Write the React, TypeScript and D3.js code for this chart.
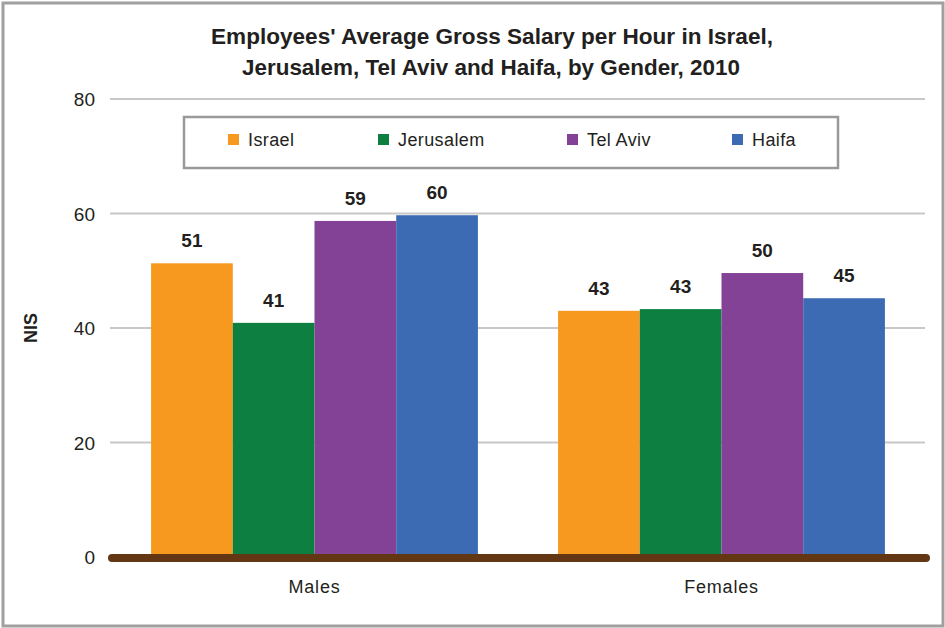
import React from "react";
import * as d3 from "d3";

const categories = ["Males", "Females"];
const seriesNames = ["Israel", "Jerusalem", "Tel Aviv", "Haifa"];
const israel = [51.3, 43.0];
const jerusalem = [40.9, 43.3];
const telAviv = [58.7, 49.6];
const haifa = [59.7, 45.2];
const valueLabels = [
  ["51", "41", "59", "60"],
  ["43", "43", "50", "45"],
];
const yTicks = [0, 20, 40, 60, 80];
const colors = ["#F7991F", "#0C7F41", "#834296", "#3C6AB3"];

const W = 945;
const H = 628;

export default function App() {
  const series = [israel, jerusalem, telAviv, haifa];
  const x0 = d3.scaleBand<string>().domain(categories).range([111, 925]).paddingInner(0.197).paddingOuter(0.0985);
  const x1 = d3.scaleBand<string>().domain(seriesNames).range([0, x0.bandwidth()]).padding(0);
  const y = d3.scaleLinear().domain([0, 80]).range([557, 99]);
  const font = "'Liberation Sans', Arial, sans-serif";
  const legendX = [228, 378, 567, 732];

  return (
    <svg width={W} height={H} style={{ position: "absolute", left: 0, top: 0 }} fontFamily={font}>
      <rect x={0} y={0} width={W} height={H} fill="#fff" />
      <rect x={3} y={3} width={W - 5} height={H - 5} fill="none" stroke="#a0a0a0" strokeWidth={3} />
      <text x={211} y={44} fontSize={21.5} fontWeight="bold" fill="#231f20" textLength={562} lengthAdjust="spacingAndGlyphs">
        Employees' Average Gross Salary per Hour in Israel,
      </text>
      <text x={242} y={75} fontSize={21.5} fontWeight="bold" fill="#231f20" textLength={498} lengthAdjust="spacingAndGlyphs">
        Jerusalem, Tel Aviv and Haifa, by Gender, 2010
      </text>
      {yTicks.map((t) => (
        <g key={t}>
          {t > 0 && <line x1={110} x2={925} y1={y(t)} y2={y(t)} stroke="#c8c8c8" strokeWidth={2} />}
          <text x={95} y={y(t) + 7} textAnchor="end" fontSize={19} fill="#231f20">
            {t}
          </text>
        </g>
      ))}
      <text transform={`translate(37,${y(40)}) rotate(-90)`} textAnchor="middle" fontSize={18} fontWeight="bold" fill="#231f20">
        NIS
      </text>
      <rect x={184} y={117} width={654} height={51} fill="#fff" stroke="#999" strokeWidth={2.5} />
      {seriesNames.map((s, i) => (
        <g key={s}>
          <rect x={legendX[i]} y={134} width={11} height={11} fill={colors[i]} />
          <text x={legendX[i] + 20} y={146} fontSize={18} letterSpacing={0.4} fill="#231f20">
            {s}
          </text>
        </g>
      ))}
      {categories.map((c, ci) => (
        <g key={c} transform={`translate(${x0(c)},0)`}>
          {seriesNames.map((s, si) => {
            const v = series[si][ci];
            const bx = x1(s) as number;
            return (
              <g key={s}>
                <rect x={bx} y={y(v)} width={x1.bandwidth()} height={y(0) - y(v)} fill={colors[si]} />
                <text x={bx + x1.bandwidth() / 2} y={y(v) - 16} textAnchor="middle" fontSize={19} fontWeight="bold" fill="#231f20">
                  {valueLabels[ci][si]}
                </text>
              </g>
            );
          })}
          <text x={x0.bandwidth() / 2} y={593} textAnchor="middle" fontSize={18} letterSpacing={0.8} fill="#231f20">
            {c}
          </text>
        </g>
      ))}
      <line x1={112} x2={926} y1={y(0) + 1} y2={y(0) + 1} stroke="#633614" strokeWidth={8} strokeLinecap="round" />
    </svg>
  );
}
